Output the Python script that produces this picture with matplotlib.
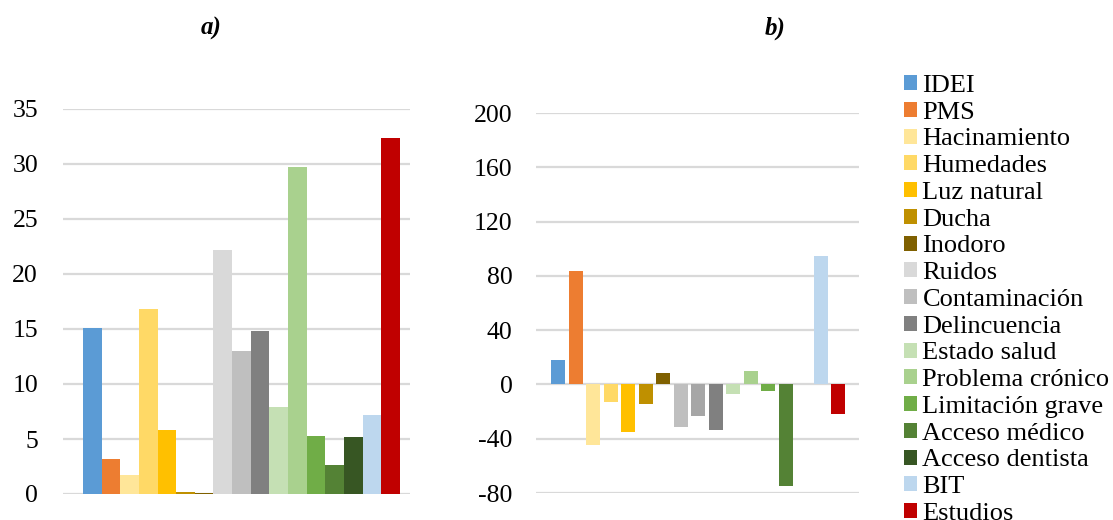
import numpy as np
import matplotlib
matplotlib.use('Agg')
import matplotlib.pyplot as plt
from matplotlib.patches import Patch

plt.rcParams['font.family'] = ['Liberation Serif', 'DejaVu Serif']
plt.rcParams['axes.unicode_minus'] = False

labels = ['IDEI', 'PMS', 'Hacinamiento', 'Humedades', 'Luz natural', 'Ducha', 'Inodoro',
          'Ruidos', 'Contaminación', 'Delincuencia', 'Estado salud', 'Problema crónico',
          'Limitación grave', 'Acceso médico', 'Acceso dentista', 'BIT', 'Estudios']
colors = ['#5B9BD5', '#ED7D31', '#FFE699', '#FFD966', '#FFC000', '#BF9000', '#7F6000',
          '#D9D9D9', '#BFBFBF', '#808080', '#C5E0B4', '#A9D18E', '#70AD47', '#548235',
          '#375623', '#BDD7EE', '#C00000']
# panel b draws the three noise/pollution/crime bars a shade darker
colors_b = colors[:7] + ['#BFBFBF', '#A6A6A6', '#808080'] + colors[10:]

vals_a = [15.1, 3.2, 1.7, 16.85, 5.8, 0.15, 0.05, 22.2, 13.0, 14.85, 7.95, 29.7,
          5.3, 2.6, 5.2, 7.2, 32.4]
vals_b = [18.2, 83.8, -44.5, -12.8, -34.9, -14.2, 8.6, -31.2, -23.1, -33.5, -6.8, 10.1,
          -4.6, -74.7, 0.0, 94.9, -22.1]

W, H = 1113, 520
fig = plt.figure(figsize=(W / 100, H / 100), dpi=100)

def px_axes(x0, x1, ytop, ybot):
    return fig.add_axes([x0 / W, 1 - ybot / H, (x1 - x0) / W, (ybot - ytop) / H])

x = np.arange(len(labels))

# a)
ax1 = px_axes(63, 410, 109, 494)
ax1.bar(x, vals_a, width=1.0, color=colors, zorder=3)
ax1.set_ylim(0, 35)
ax1.set_yticks(np.arange(0, 36, 5))
ax1.set_xlim(-1.57, 17.04)
ax1.tick_params(axis='y', pad=18)

# b)
ax2 = px_axes(536, 859, 113, 493)
ax2.bar(x, vals_b, width=0.8, color=colors_b, zorder=3)
ax2.set_ylim(-80, 200)
ax2.set_yticks(np.arange(-80, 201, 40))
ax2.set_xlim(-1.26, 17.2)
ax2.tick_params(axis='y', pad=17)

for ax in (ax1, ax2):
    ax.set_xticks([])
    for s in ax.spines.values():
        s.set_visible(False)
    ax.grid(axis='y', color='#D9D9D9', linewidth=1.6, zorder=0)
    ax.tick_params(axis='y', length=0, labelsize=18.5, labelcolor='black')

fig.text(211 / W, 1 - 28 / H, 'a)', fontsize=18, fontweight='bold', fontstyle='italic',
         ha='center', va='center')
fig.text(775 / W, 1 - 28 / H, 'b)', fontsize=18, fontweight='bold', fontstyle='italic',
         ha='center', va='center')

handles = [Patch(facecolor=c, edgecolor='none') for c in colors]
fig.legend(handles, labels, loc='upper left', bbox_to_anchor=(904 / W, 1 - 75 / H),
           frameon=False, fontsize=19, handlelength=0.5, handleheight=0.5,
           handletextpad=0.2, labelspacing=0.18, borderaxespad=0, borderpad=0)

fig.savefig('out.png', dpi=100)
